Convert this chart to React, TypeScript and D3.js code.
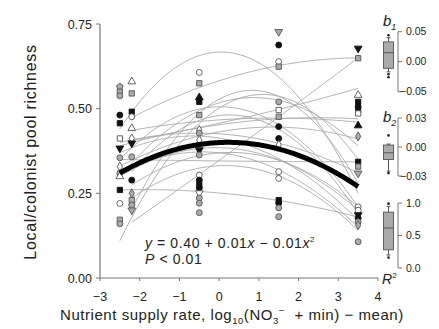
import React, { useEffect, useRef } from "react";
import * as d3 from "d3";

// nutrient supply levels where pools were sampled
const levels = [-2.5, -2.2, -0.5, 1.5, 3.5];

// local/colonist richness per pool, one array per supply level
const richness = [
  [0.565, 0.55, 0.538, 0.481, 0.457, 0.412, 0.383, 0.355, 0.329, 0.31, 0.3, 0.26, 0.22, 0.172, 0.16],
  [0.58, 0.545, 0.491, 0.476, 0.442, 0.412, 0.398, 0.358, 0.289, 0.25, 0.23, 0.215, 0.2],
  [0.607, 0.575, 0.533, 0.52, 0.481, 0.437, 0.428, 0.407, 0.378, 0.363, 0.304, 0.289, 0.275, 0.266, 0.251, 0.236, 0.221, 0.193],
  [0.727, 0.688, 0.639, 0.624, 0.52, 0.496, 0.476, 0.447, 0.412, 0.393, 0.314, 0.294, 0.23, 0.221, 0.207, 0.181],
  [0.678, 0.649, 0.54, 0.52, 0.506, 0.496, 0.486, 0.45, 0.418, 0.343, 0.329, 0.309, 0.21, 0.2, 0.186, 0.176, 0.166, 0.156, 0.107],
];

// pool symbol: shape + fill (o circle, s square, ^ up, v down, d diamond, p pentagon / k black, w open, g gray)
const symbols = [
  ["pg", "sg", "og", "ok", "sk", "sw", "vk", "og", "dw", "og", "^w", "sk", "ow", "sg", "og"],
  ["^w", "sg", "sk", "ow", "^w", "dw", "vk", "og", "ok", "dg", "sg", "pg", "vg"],
  ["ow", "sg", "^k", "sk", "sg", "dw", "og", "dw", "vk", "og", "ow", "ok", "sk", "ok", "vw", "og", "og", "og"],
  ["vg", "ok", "ow", "sg", "og", "sw", "sg", "ok", "ok", "dw", "ow", "ow", "sk", "ok", "og", "og"],
  ["vk", "sg", "^w", "sk", "ok", "sk", "sw", "^k", "dg", "sk", "sg", "vg", "ow", "ow", "vk", "ok", "og", "dg", "og"],
];

// per-pool quadratic fits: start level and fitted values at x = -2.5, 0.5, 3.5
const fitStart = [-2.2, -2.5, -2.5, -2.2, -2.2, -2.2, -2.5, -2.5, -2.2, -2.5, -2.2, -2.5, -2.5, -2.5, -2.5, -2.5, -2.5, -2.2, -2.5, -2.2];
const fitLow = [0.455, 0.44, 0.11, 0.13, 0.14, 0.4, 0.3, 0.35, 0.27, 0.39, 0.43, 0.33, 0.35, 0.26, 0.3, 0.37, 0.31, 0.25, 0.4, 0.21];
const fitMid = [0.6, 0.66, 0.53, 0.55, 0.39, 0.47, 0.53, 0.5, 0.48, 0.46, 0.47, 0.44, 0.345, 0.245, 0.38, 0.4, 0.36, 0.37, 0.42, 0.33];
const fitHigh = [0.65, 0.25, 0.35, 0.28, 0.65, 0.56, 0.39, 0.21, 0.19, 0.47, 0.46, 0.41, 0.343, 0.18, 0.2, 0.17, 0.15, 0.21, 0.31, 0.14];

// overall fit
const overall = [0.4, 0.0055, -0.0122];

// inset box plots: [whiskerLo, q1, median, q3, whiskerHi]
const b1Box = [-0.017, -0.011, 0.015, 0.033, 0.04];
const b1Out = [0.044, -0.021, -0.026];
const b2Box = [-0.025, -0.013, -0.006, 0.002, 0.003];
const b2Out = [0.012, -0.027];
const r2Box = [0.2, 0.28, 0.615, 0.86, 0.95];
const r2Out = [0.99, 0.16];

const xTicks = [-3, -2, -1, 0, 1, 2, 3, 4];
const yTicks = [0, 0.25, 0.5, 0.75];

const pentagon = {
  draw(ctx: any, size: number) {
    const r = Math.sqrt(size / 2.4);
    for (let i = 0; i < 5; i++) {
      const a = (i * 2 * Math.PI) / 5 - Math.PI / 2;
      if (i === 0) ctx.moveTo(r * Math.cos(a), r * Math.sin(a));
      else ctx.lineTo(r * Math.cos(a), r * Math.sin(a));
    }
    ctx.closePath();
  },
};

const App = () => {
  const ref = useRef<SVGSVGElement>(null);

  useEffect(() => {
    document.body.style.margin = "0";
    const svg = d3.select(ref.current);
    svg.selectAll("*").remove();
    const font = "Liberation Sans, Arial, sans-serif";
    const axisCol = "#777";

    const x = d3.scaleLinear().domain([-3, 4]).range([100, 378]);
    const y = d3.scaleLinear().domain([0, 0.75]).range([278, 24]);

    // axes
    svg.append("line").attr("x1", 100).attr("x2", 100).attr("y1", y(0.75)).attr("y2", y(0))
      .attr("stroke", axisCol).attr("stroke-width", 1.2);
    svg.append("line").attr("x1", x(-3)).attr("x2", x(4)).attr("y1", y(0)).attr("y2", y(0))
      .attr("stroke", axisCol).attr("stroke-width", 1.2);
    yTicks.forEach((t) => {
      svg.append("line").attr("x1", 96).attr("x2", 100).attr("y1", y(t)).attr("y2", y(t)).attr("stroke", axisCol);
      svg.append("text").attr("x", 92).attr("y", y(t) + 4.5).attr("text-anchor", "end")
        .attr("font-family", font).attr("font-size", 12.5).attr("fill", "#222").text(t.toFixed(2));
    });
    xTicks.forEach((t) => {
      svg.append("line").attr("x1", x(t)).attr("x2", x(t)).attr("y1", y(0)).attr("y2", y(0) + 3).attr("stroke", axisCol);
      svg.append("text").attr("x", x(t)).attr("y", 301).attr("text-anchor", "middle")
        .attr("font-family", font).attr("font-size", 12.5).attr("fill", "#222")
        .text(t < 0 ? "\u2212" + Math.abs(t) : String(t));
    });

    // pool fits
    const line = d3.line<[number, number]>().x((d) => x(d[0])).y((d) => y(d[1]));
    fitStart.forEach((s, i) => {
      const L = fitLow[i], M = fitMid[i], R = fitHigh[i];
      const c = (L - 2 * M + R) / 18;
      const bu = (R - L) / 6;
      const pts = d3.range(s, 3.5001, 0.05).map((v) => {
        const u = v - 0.5;
        return [v, M + bu * u + c * u * u] as [number, number];
      });
      svg.append("path").attr("d", line(pts)).attr("fill", "none").attr("stroke", "#a8a8a8").attr("stroke-width", 0.9);
    });

    // points
    const shapeOf: Record<string, any> = {
      o: d3.symbolCircle, s: d3.symbolSquare, "^": d3.symbolTriangle, v: d3.symbolTriangle, d: d3.symbolDiamond, p: pentagon,
    };
    const fillOf: Record<string, string> = { k: "#111", w: "#fff", g: "#aaa" };
    levels.forEach((lv, ci) => {
      richness[ci].forEach((val, pi) => {
        const sym = symbols[ci][pi];
        const sh = sym[0];
        const size = sh === "d" ? 24 : sh === "^" || sh === "v" ? 26 : 28;
        svg.append("path")
          .attr("d", d3.symbol().type(shapeOf[sh]).size(size)())
          .attr("transform", `translate(${x(lv)},${y(val)})${sh === "v" ? " rotate(180)" : ""}`)
          .attr("fill", fillOf[sym[1]])
          .attr("stroke", sym[1] === "k" ? "#111" : "#555")
          .attr("stroke-width", 0.9);
      });
    });

    // overall fit
    const mainPts = d3.range(-2.5, 3.5001, 0.05).map((v) => [v, overall[0] + overall[1] * v + overall[2] * v * v] as [number, number]);
    svg.append("path").attr("d", line(mainPts)).attr("fill", "none").attr("stroke", "#000").attr("stroke-width", 5);

    // equation
    const eq = svg.append("text").attr("x", 145).attr("y", 248).attr("font-family", font).attr("font-size", 14)
      .attr("letter-spacing", 0.6).attr("fill", "#222");
    eq.append("tspan").attr("font-style", "italic").text("y");
    eq.append("tspan").text(" = 0.40 + 0.01");
    eq.append("tspan").attr("font-style", "italic").text("x");
    eq.append("tspan").text(" \u2212 0.01");
    eq.append("tspan").attr("font-style", "italic").text("x");
    eq.append("tspan").attr("font-size", 8).attr("dy", -6).text("2");
    const pv = svg.append("text").attr("x", 145).attr("y", 264).attr("font-family", font).attr("font-size", 14)
      .attr("letter-spacing", 0.6).attr("fill", "#222");
    pv.append("tspan").attr("font-style", "italic").text("P");
    pv.append("tspan").text(" < 0.01");

    // titles
    svg.append("text").attr("transform", "translate(36,152) rotate(-90)").attr("text-anchor", "middle")
      .attr("font-family", font).attr("font-size", 16).attr("letter-spacing", 0.7).attr("fill", "#222")
      .text("Local/colonist pool richness");
    const xt = svg.append("text").attr("x", 60).attr("y", 320).attr("font-family", font).attr("font-size", 15)
      .attr("letter-spacing", 0.55).attr("fill", "#222");
    xt.append("tspan").text("Nutrient supply rate, log");
    xt.append("tspan").attr("font-size", 9.5).attr("dy", 4).text("10");
    xt.append("tspan").attr("dy", -4).text("(NO");
    xt.append("tspan").attr("font-size", 9.5).attr("dy", 4).text("3");
    xt.append("tspan").attr("font-size", 9.5).attr("dy", -10).text("\u2212");
    xt.append("tspan").attr("dy", 6).text("\u00a0\u00a0+ min) \u2212 mean)");

    // insets
    const insets = [
      { dom: [-0.05, 0.05], rng: [91.7, 31.7], box: b1Box, out: b1Out, ticks: [0.05, 0, -0.05], fmt: ".2f", label: "1", ly: 26 },
      { dom: [-0.03, 0.03], rng: [176, 118], box: b2Box, out: b2Out, ticks: [0.03, 0, -0.03], fmt: ".2f", label: "2", ly: 122 },
      { dom: [0, 1], rng: [268, 203], box: r2Box, out: r2Out, ticks: [1, 0.5, 0], fmt: ".1f", label: "", ly: 0 },
    ];
    const bx = 388.5, bw = 10, ax = 398;
    insets.forEach((ins) => {
      const s = d3.scaleLinear().domain(ins.dom).range(ins.rng);
      const f = d3.format(ins.fmt);
      svg.append("line").attr("x1", ax).attr("x2", ax).attr("y1", s(ins.dom[0])).attr("y2", s(ins.dom[1]))
        .attr("stroke", axisCol).attr("stroke-width", 1);
      ins.ticks.forEach((t) => {
        svg.append("line").attr("x1", ax).attr("x2", ax + 4).attr("y1", s(t)).attr("y2", s(t)).attr("stroke", axisCol);
        const lab = f(t).replace("-", "\u2212");
        svg.append("text").attr("x", t < 0 ? ax + 2 : ax + 8).attr("y", s(t) + 3.5).attr("font-family", font)
          .attr("font-size", 10.5).attr("fill", "#222").text(lab);
      });
      const [wl, q1, md, q3, wh] = ins.box;
      svg.append("line").attr("x1", bx).attr("x2", bx).attr("y1", s(wl)).attr("y2", s(wh)).attr("stroke", "#555");
      [wl, wh].forEach((w) => svg.append("line").attr("x1", bx - 2).attr("x2", bx + 2).attr("y1", s(w)).attr("y2", s(w)).attr("stroke", "#555"));
      svg.append("rect").attr("x", bx - bw / 2).attr("y", s(q3)).attr("width", bw).attr("height", s(q1) - s(q3))
        .attr("fill", "#aaa").attr("stroke", "#555").attr("stroke-width", 0.9);
      svg.append("line").attr("x1", bx - bw / 2).attr("x2", bx + bw / 2).attr("y1", s(md)).attr("y2", s(md)).attr("stroke", "#555");
      ins.out.forEach((o) => svg.append("circle").attr("cx", bx).attr("cy", s(o)).attr("r", 1.3).attr("fill", "#222"));
      if (ins.label) {
        const t = svg.append("text").attr("x", 383).attr("y", ins.ly).attr("font-family", font).attr("font-size", 15)
          .attr("font-style", "italic").attr("fill", "#222");
        t.append("tspan").text("b");
        t.append("tspan").attr("font-size", 9).attr("dy", 4).text(ins.label);
      }
    });
    const r2 = svg.append("text").attr("x", 382).attr("y", 284).attr("font-family", font).attr("font-size", 14)
      .attr("font-style", "italic").attr("fill", "#222");
    r2.append("tspan").text("R");
    r2.append("tspan").attr("font-size", 8).attr("dy", -6).attr("font-style", "normal").text("2");
  }, []);

  return (
    <div style={{ position: "absolute", left: 0, top: 0 }}>
      <svg ref={ref} width={439} height={329} style={{ display: "block", background: "#fff" }} />
    </div>
  );
};

export default App;
